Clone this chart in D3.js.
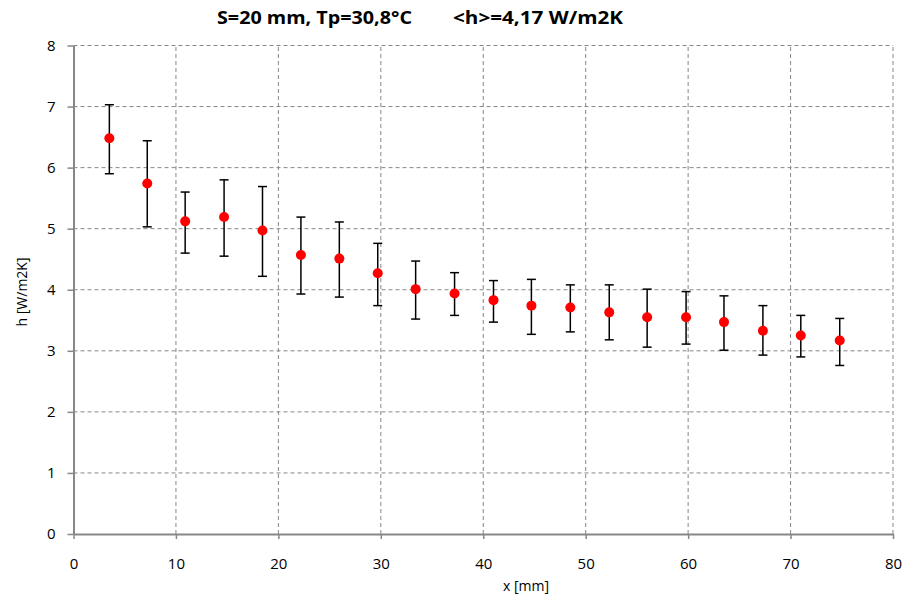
<!DOCTYPE html>
<html>
  <head>
    <meta charset="utf-8">
    <title>h vs x</title>
    <script src="https://cdn.jsdelivr.net/npm/d3@7"></script>
    <style>
      body { margin: 0; background: #fff; }
      text { font-family: "Open Sans", "Noto Sans", sans-serif; fill: #000; }
    </style>
  </head>
  <body>
    <div id='graph'></div>
    <script>

    // position along plate [mm]
    var xPos = [3.5, 7.2, 10.9, 14.7, 18.45, 22.2, 25.95, 29.7, 33.4, 37.2,
                41.0, 44.7, 48.5, 52.3, 56.0, 59.8, 63.5, 67.3, 71.0, 74.8];
    // heat transfer coefficient h [W/m2K]
    var hVal = [6.48, 5.74, 5.12, 5.19, 4.97, 4.57, 4.51, 4.27, 4.01, 3.94,
                3.83, 3.74, 3.71, 3.63, 3.55, 3.55, 3.47, 3.33, 3.25, 3.17];
    // error bar ends
    var hHigh = [7.03, 6.44, 5.60, 5.80, 5.69, 5.19, 5.11, 4.76, 4.47, 4.28,
                 4.15, 4.17, 4.08, 4.08, 4.01, 3.97, 3.90, 3.74, 3.58, 3.53];
    var hLow = [5.90, 5.03, 4.60, 4.55, 4.22, 3.93, 3.88, 3.74, 3.52, 3.58,
                3.47, 3.27, 3.31, 3.18, 3.06, 3.11, 3.01, 2.93, 2.90, 2.76];

    var xTicks = [0, 10, 20, 30, 40, 50, 60, 70, 80];
    var yTicks = [0, 1, 2, 3, 4, 5, 6, 7, 8];

    var width = 906;
    var height = 596;
    var grey = "#878787";

    var xScale = d3.scaleLinear()
                  .domain([0, 80])
                  .range([73.5, 893]);

    var yScale = d3.scaleLinear()
                  .domain([0, 8])
                  .range([534, 45.5]);

    var svg = d3.select('#graph')
              .append('svg')
              .attr("width", width)
              .attr("height", height);

    // dashed grid (the top and right edges are dashed as well)
    svg.selectAll('.hgrid')
      .data(yTicks.slice(1))
      .enter()
      .append('line')
      .attr("class", "hgrid")
      .attr("x1", xScale(0))
      .attr("x2", xScale(80))
      .attr("y1", function(d) { return yScale(d); })
      .attr("y2", function(d) { return yScale(d); })
      .attr("stroke", grey)
      .attr("stroke-width", 1)
      .attr("stroke-dasharray", "4,3");

    svg.selectAll('.vgrid')
      .data(xTicks.slice(1))
      .enter()
      .append('line')
      .attr("class", "vgrid")
      .attr("y1", yScale(0))
      .attr("y2", yScale(8))
      .attr("x1", function(d) { return xScale(d); })
      .attr("x2", function(d) { return xScale(d); })
      .attr("stroke", grey)
      .attr("stroke-width", 1)
      .attr("stroke-dasharray", "4,3");

    var xAxis = d3.axisBottom(xScale)
                  .tickValues(xTicks)
                  .tickSize(5)
                  .tickPadding(19)
                  .tickSizeOuter(0);

    var yAxis = d3.axisLeft(yScale)
                  .tickValues(yTicks)
                  .tickSize(6)
                  .tickPadding(12)
                  .tickSizeOuter(0);

    var gx = svg.append('g')
      .attr("transform", "translate(0," + yScale(0) + ")")
      .call(xAxis);

    var gy = svg.append('g')
      .attr("transform", "translate(" + xScale(0) + ",0)")
      .call(yAxis);

    [gx, gy].forEach(function(g) {
      g.select('.domain').attr("stroke", grey).attr("stroke-width", 2);
      g.selectAll('.tick line').attr("stroke", grey).attr("stroke-width", 1.5);
      g.selectAll('.tick text')
        .attr("font-family", "'Open Sans', sans-serif")
        .attr("font-size", "15px")
        .attr("fill", "#000");
    });

    // error bars
    var bars = svg.selectAll('.err')
      .data(xPos)
      .enter()
      .append('g')
      .attr("class", "err");

    bars.append('line')
      .attr("x1", function(d) { return xScale(d); })
      .attr("x2", function(d) { return xScale(d); })
      .attr("y1", function(d, i) { return yScale(hHigh[i]); })
      .attr("y2", function(d, i) { return yScale(hLow[i]); })
      .attr("stroke", "#000")
      .attr("stroke-width", 1.5);

    bars.append('line')
      .attr("x1", function(d) { return xScale(d) - 4.5; })
      .attr("x2", function(d) { return xScale(d) + 4.5; })
      .attr("y1", function(d, i) { return yScale(hHigh[i]); })
      .attr("y2", function(d, i) { return yScale(hHigh[i]); })
      .attr("stroke", "#000")
      .attr("stroke-width", 1.5);

    bars.append('line')
      .attr("x1", function(d) { return xScale(d) - 4.5; })
      .attr("x2", function(d) { return xScale(d) + 4.5; })
      .attr("y1", function(d, i) { return yScale(hLow[i]); })
      .attr("y2", function(d, i) { return yScale(hLow[i]); })
      .attr("stroke", "#000")
      .attr("stroke-width", 1.5);

    // points
    svg.selectAll('.pt')
      .data(xPos)
      .enter()
      .append('circle')
      .attr("class", "pt")
      .attr("cx", function(d) { return xScale(d); })
      .attr("cy", function(d, i) { return yScale(hVal[i]); })
      .attr("r", 5)
      .attr("fill", "#ff0000");

    // titles
    svg.append('text')
      .attr("x", 217)
      .attr("y", 24)
      .attr("font-size", "18px")
      .attr("font-weight", "bold")
      .attr("textLength", 195)
      .attr("lengthAdjust", "spacingAndGlyphs")
      .text("S=20 mm, Tp=30,8°C");

    svg.append('text')
      .attr("x", 453)
      .attr("y", 24)
      .attr("font-size", "18px")
      .attr("font-weight", "bold")
      .attr("textLength", 170)
      .attr("lengthAdjust", "spacingAndGlyphs")
      .text("<h>=4,17 W/m2K");

    svg.append('text')
      .attr("x", 526)
      .attr("y", 591)
      .attr("text-anchor", "middle")
      .attr("font-size", "14px")
      .text("x [mm]");

    svg.append('text')
      .attr("transform", "translate(27,292) rotate(-90)")
      .attr("text-anchor", "middle")
      .attr("font-size", "14px")
      .text("h [W/m2K]");

    </script>
  </body>
</html>
